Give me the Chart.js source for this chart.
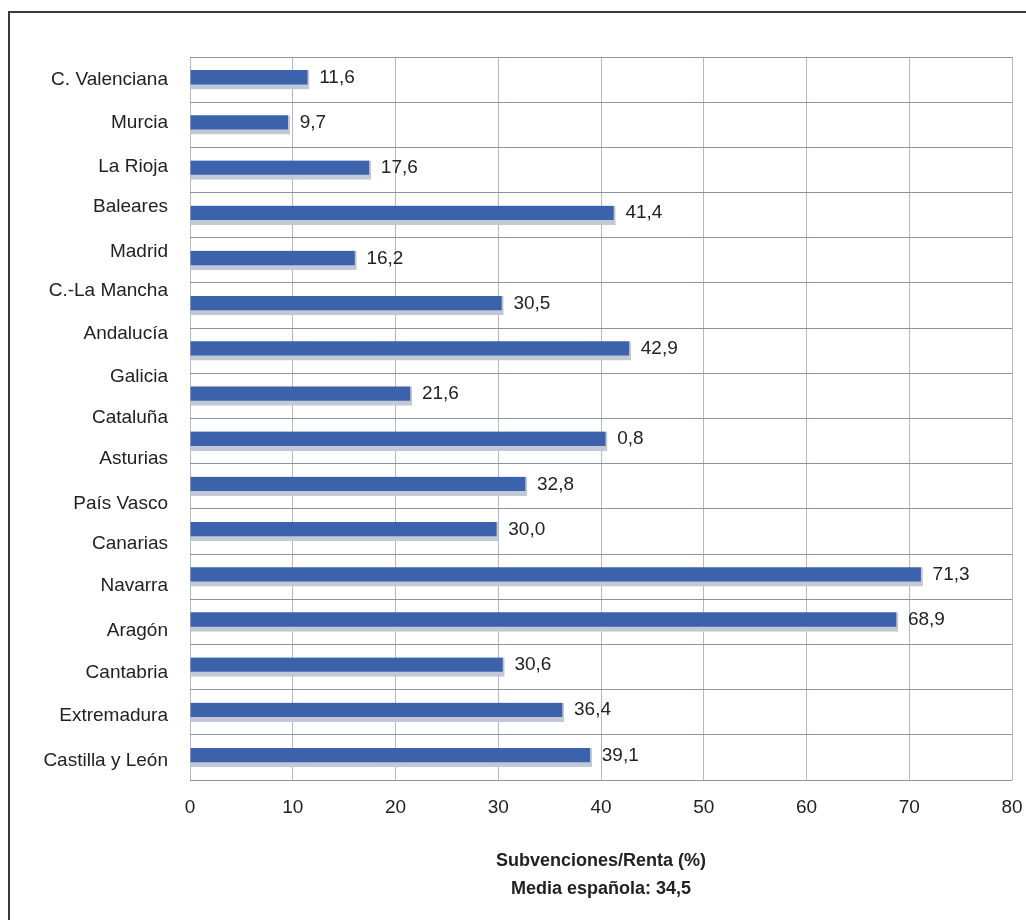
<!DOCTYPE html>
<html lang="es">
<head>
<meta charset="utf-8">
<script src="https://cdn.jsdelivr.net/npm/chart.js@4/dist/chart.umd.min.js"></script>
<style>
  html, body { margin: 0; padding: 0; background: #fff; overflow: hidden; }
  #wrap { position: relative; width: 1026px; height: 920px; }
  #marco {
    position: absolute; left: 8px; top: 11px; width: 1100px; height: 1000px;
    border-left: 2px solid #3a3a3a; border-top: 2px solid #3a3a3a;
    pointer-events: none;
  }
</style>
</head>
<body>
<div id="wrap">
  <canvas id="grafico" width="1026" height="920"></canvas>
  <div id="marco"></div>
</div>
<script>
// Regiones (eje vertical, tal como aparecen en el original)
const regiones = [
  "C. Valenciana", "Murcia", "La Rioja", "Baleares", "Madrid", "C.-La Mancha",
  "Andalucía", "Galicia", "Cataluña", "Asturias", "País Vasco", "Canarias",
  "Navarra", "Aragón", "Cantabria", "Extremadura", "Castilla y León"
];
// posición de cada rótulo en unidades de barra (el original los tiene desplazados)
const posRotulos = [0, 0.95, 1.93, 2.82, 3.8, 4.68, 5.63, 6.58, 7.48, 8.4, 9.38, 10.28, 11.2, 12.2, 13.12, 14.07, 15.07];

// Barras: longitud y texto de la etiqueta
const valores = [11.6, 9.7, 17.6, 41.4, 16.2, 30.5, 42.9, 21.6, 40.6, 32.8, 30.0, 71.3, 68.9, 30.6, 36.4, 39.1];
const textos = ["11,6", "9,7", "17,6", "41,4", "16,2", "30,5", "42,9", "21,6", "0,8", "32,8", "30,0", "71,3", "68,9", "30,6", "36,4", "39,1"];

const ticksX = [0, 10, 20, 30, 40, 50, 60, 70, 80];
const tituloX = ["Subvenciones/Renta (%)", "Media española: 34,5"];

const fuente = "'Liberation Sans', Arial, sans-serif";

const etiquetasBarras = {
  id: "etiquetasBarras",
  afterDatasetsDraw(chart) {
    const ctx = chart.ctx;
    const meta = chart.getDatasetMeta(0);
    ctx.save();
    ctx.font = "19px " + fuente;
    ctx.fillStyle = "#222";
    ctx.textAlign = "left";
    ctx.textBaseline = "middle";
    meta.data.forEach((bar, i) => {
      ctx.fillText(chart.data.labels[i], bar.x + 10, bar.y - 2);
    });
    ctx.restore();
  }
};

new Chart(document.getElementById("grafico"), {
  type: "bar",
  data: {
    labels: textos,
    datasets: [{
      data: valores,
      backgroundColor: "#3b62aa",
      borderColor: "#c2c9d6",
      borderWidth: { top: 0, left: 0, right: 2, bottom: 5 },
      borderSkipped: false,
      barThickness: 19
    }]
  },
  options: {
    indexAxis: "y",
    responsive: false,
    animation: false,
    layout: { padding: { left: 0, top: 57, right: 14, bottom: 13 } },
    plugins: { legend: { display: false }, tooltip: { enabled: false } },
    scales: {
      x: {
        type: "linear",
        min: 0,
        max: 80,
        afterBuildTicks: axis => { axis.ticks = ticksX.map(v => ({ value: v })); },
        afterFit: s => { s.height = 127; s.paddingLeft = 0; s.paddingRight = 0; },
        grid: { color: "#b3b9c4", drawTicks: false },
        border: { display: false },
        ticks: { color: "#222", font: { family: fuente, size: 19 }, padding: 16 },
        title: {
          display: true,
          text: tituloX,
          color: "#222",
          font: { family: fuente, size: 18, weight: "bold", lineHeight: 1.55 },
          padding: { top: 18, bottom: 4 }
        }
      },
      y: {
        type: "category",
        position: "left",
        offset: true,
        grid: { offset: true, color: "#8f949c", drawTicks: false },
        border: { display: false },
        ticks: { display: false },
        afterFit: s => { s.width = 0; s.paddingTop = 0; s.paddingBottom = 0; }
      },
      rotulos: {
        type: "linear",
        position: "left",
        axis: "y",
        offset: false,
        min: -0.5,
        max: 15.5,
        reverse: true,
        afterBuildTicks: axis => { axis.ticks = posRotulos.map(v => ({ value: v })); },
        afterFit: s => { s.width = 190; s.paddingTop = 0; s.paddingBottom = 0; },
        grid: { display: false, offset: false, drawTicks: false },
        border: { display: false },
        ticks: {
          autoSkip: false,
          padding: 22,
          color: "#222",
          font: { family: fuente, size: 19 },
          callback: (v, i) => regiones[i]
        }
      }
    }
  },
  plugins: [etiquetasBarras]
});
</script>
</body>
</html>
